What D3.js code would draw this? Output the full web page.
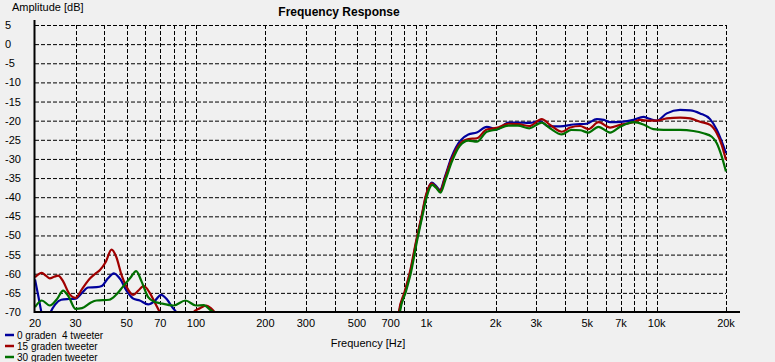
<!DOCTYPE html>
<html lang="en">
<head>
    <meta charset="UTF-8">
    <title>Frequency Response</title>
    <script src="https://d3js.org/d3.v7.min.js"></script>
    <style>
        body { margin: 0; background: #f0f0f0; }
        svg { display: block; background: #f0f0f0; }
        text { font-family: "Liberation Sans", Arial, sans-serif; font-size: 11px; fill: #000; }
        .title { font-weight: bold; font-size: 12px; }
        .legend_text { font-size: 10px; white-space: pre; }
    </style>
</head>
<body>
<svg width="775" height="362"></svg>

<script>
    // tick labels
    const yTicks = [5, 0, -5, -10, -15, -20, -25, -30, -35, -40, -45, -50, -55, -60, -65, -70];
    const xGrid = [20, 30, 40, 50, 60, 70, 80, 90, 100, 200, 300, 400, 500, 600, 700, 800, 900,
        1000, 2000, 3000, 4000, 5000, 6000, 7000, 8000, 9000, 10000, 20000];
    const xLabels = [20, 30, 50, 70, 100, 200, 300, 500, 700, 1000, 2000, 3000, 5000, 7000, 10000, 20000];

    const seriesNames = ["0 graden  4 tweeter", "15 graden tweeter", "30 graden tweeter"];
    const seriesColors = ["#00009c", "#a00000", "#007000"];

    // [Hz, dB]; values below -70 are clipped away
    const deg0 = [
        [20, -61.5], [20.7, -66], [21.4, -70.5], [22.3, -74], [23.2, -70.5], [24.5, -68], [26, -66.8],
        [28, -66.6], [30, -66.5], [32, -65], [34, -63.6], [37, -63.5], [39, -63.2], [41.5, -61.2],
        [44, -59.9], [47, -61.5], [50, -64.5], [53.4, -66.5], [57, -67], [62, -68], [66, -67.2],
        [70.5, -65.5], [75, -66.8], [79, -68.8], [83, -70.5], [86, -73],
        [730, -80], [763, -70], [809, -64.7], [850, -59.9], [908, -51.2], [955, -45.1], [1000, -39.4],
        [1056, -36.2], [1100, -37], [1147, -38.1], [1205, -34.6], [1289, -29.4], [1401, -25.3],
        [1522, -23.6], [1656, -23.1], [1829, -21.6], [2023, -22.3], [2271, -20.5], [2500, -20.5],
        [2800, -20.6], [3118, -20.1], [3388, -21.5], [3808, -21.5], [4350, -21], [4972, -20.8],
        [5497, -19.6], [5900, -19.8], [6276, -20.4], [7000, -20.3], [7926, -19.8], [8756, -19],
        [9300, -19.5], [10012, -20], [11068, -18.1], [12638, -17.2], [14000, -17.3], [15436, -18.1],
        [17060, -19.6], [18240, -22.4], [19175, -25.5], [20000, -28.5]
    ];
    const deg15 = [
        [20, -60.9], [21.4, -59.8], [22.3, -60.5], [23.2, -61.2], [24.2, -60.8], [25.2, -60.5],
        [26.5, -62], [28, -65], [30, -66.3], [32, -64], [34.7, -61.2], [36.5, -60], [38.3, -59],
        [40.5, -57], [43, -53.7], [45, -55.5], [47.6, -60.5], [50, -63.5], [53.4, -65.5], [56, -64.5],
        [59.3, -63.2], [63, -65], [66.5, -67.7], [70, -70.3], [75, -73], [88, -74], [94, -71.5],
        [97, -70.2], [104, -69], [111, -68.3], [116, -69], [121, -70.3], [126, -73],
        [730, -80], [760, -70], [805, -64.7], [846, -59.9], [905, -51.2], [952, -45.1], [997, -39.4],
        [1053, -36.4], [1100, -37.3], [1147, -38.4], [1205, -35], [1289, -30], [1401, -26],
        [1522, -24.8], [1656, -24.6], [1829, -22.3], [2023, -21.9], [2271, -20.8], [2500, -20.9],
        [2800, -21.4], [3170, -19.6], [3446, -21.1], [3873, -22.9], [4210, -21.8], [4652, -21.4],
        [5054, -22.2], [5586, -20.4], [6276, -21.8], [6937, -21.1], [7926, -20.4], [8472, -19.8],
        [9300, -20], [10012, -20], [11068, -19.4], [12638, -19.2], [14000, -19.4], [15436, -20.3],
        [17060, -21.1], [18240, -23.3], [19175, -26.4], [20000, -30.3]
    ];
    const deg30 = [
        [20, -68.7], [21.4, -67], [23.2, -68.3], [25, -66.5], [26.5, -64.4], [28, -66], [30, -69.2],
        [32, -69], [35, -67.5], [37, -67], [42, -66.8], [45, -65.5], [48, -63.5], [52, -61],
        [55, -59.3], [58, -62], [62, -66.1], [66, -67.3], [70, -67.7], [80, -68.3], [90, -67],
        [100, -68.3], [108, -68.2], [116, -69.6], [121, -70.5], [126, -73],
        [740, -80], [768, -70], [815, -64.7], [856, -59.9], [913, -51.2], [960, -45.1], [1005, -39.8],
        [1060, -36.8], [1105, -37.6], [1152, -38.8], [1210, -35.5], [1295, -30.5], [1401, -26.5],
        [1522, -25.2], [1656, -25.5], [1829, -22.9], [2023, -22.3], [2271, -21.3], [2500, -21.3],
        [2800, -22], [3170, -20.5], [3446, -22], [3873, -23.6], [4260, -22.4], [4652, -22.5],
        [5054, -23.1], [5586, -21.6], [6276, -23.1], [6937, -21.6], [7926, -20.4], [8756, -21],
        [9677, -22.2], [10697, -22.4], [12638, -22.4], [14442, -22.7], [15958, -23.3], [17353, -24.2],
        [18240, -25.9], [19175, -29.4], [20000, -33.3]
    ];
    const series = [deg0, deg15, deg30];

    const svg = d3.select("svg");

    const x = d3.scaleLog().domain([20, 20000]).range([35, 726]);
    const y = d3.scaleLinear().domain([-70, 5]).range([312, 25]);

    const fmt = f => f >= 1000 ? (f / 1000) + "k" : String(f);

    // grid
    const grid = svg.append("g");
    grid.selectAll("line.h")
        .data(yTicks.filter(d => d > -70))
        .enter().append("line")
        .attr("x1", x(20)).attr("x2", x(20000))
        .attr("y1", d => y(d) + 0.5).attr("y2", d => y(d) + 0.5)
        .attr("stroke", "#000").attr("stroke-dasharray", "4,2");
    grid.selectAll("line.v")
        .data(xGrid.filter(d => d > 20))
        .enter().append("line")
        .attr("x1", d => Math.round(x(d)) + 0.5).attr("x2", d => Math.round(x(d)) + 0.5)
        .attr("y1", y(5)).attr("y2", y(-70))
        .attr("stroke", "#000").attr("stroke-dasharray", "4,2");

    // y tick labels (left aligned)
    svg.append("g").selectAll("text")
        .data(yTicks)
        .enter().append("text")
        .attr("x", 5)
        .attr("y", d => y(d) + 4)
        .text(d => d);

    // x tick labels
    svg.append("g").selectAll("text")
        .data(xLabels)
        .enter().append("text")
        .attr("x", d => x(d))
        .attr("y", 327)
        .attr("text-anchor", "middle")
        .text(fmt);

    // curves
    svg.append("clipPath").attr("id", "plotclip")
        .append("rect")
        .attr("x", x(20)).attr("y", 15)
        .attr("width", x(20000) - x(20) + 1).attr("height", y(-70) - 15);

    const line = d3.line()
        .x(d => x(d[0]))
        .y(d => y(d[1]))
        .curve(d3.curveMonotoneX);

    svg.append("g").attr("clip-path", "url(#plotclip)")
        .selectAll("path")
        .data(series)
        .enter().append("path")
        .attr("d", line)
        .attr("fill", "none")
        .attr("stroke", (d, i) => seriesColors[i])
        .attr("stroke-width", 2.2)
        .attr("stroke-linejoin", "round");

    // axes
    svg.append("line")
        .attr("x1", 34.5).attr("x2", 34.5).attr("y1", 20).attr("y2", 313)
        .attr("stroke", "#000").attr("stroke-width", 2);
    svg.append("line")
        .attr("x1", 34).attr("x2", 740).attr("y1", 312).attr("y2", 312)
        .attr("stroke", "#000").attr("stroke-width", 2);

    // titles
    svg.append("text").attr("class", "title")
        .attr("x", 339).attr("y", 16).attr("text-anchor", "middle")
        .text("Frequency Response");
    svg.append("text").attr("x", 12).attr("y", 11).text("Amplitude [dB]");
    svg.append("text").attr("x", 368).attr("y", 347).attr("text-anchor", "middle").text("Frequency [Hz]");

    // legend
    const legend = svg.append("g").selectAll("g")
        .data(seriesNames)
        .enter().append("g")
        .attr("transform", (d, i) => "translate(0," + (335 + i * 11) + ")");
    legend.append("line")
        .attr("x1", 5).attr("x2", 14).attr("y1", 0).attr("y2", 0)
        .attr("stroke", (d, i) => seriesColors[i]).attr("stroke-width", 2.5);
    legend.append("text").attr("class", "legend_text")
        .attr("x", 17).attr("y", 3.5)
        .text(d => d);
</script>
</body>
</html>
